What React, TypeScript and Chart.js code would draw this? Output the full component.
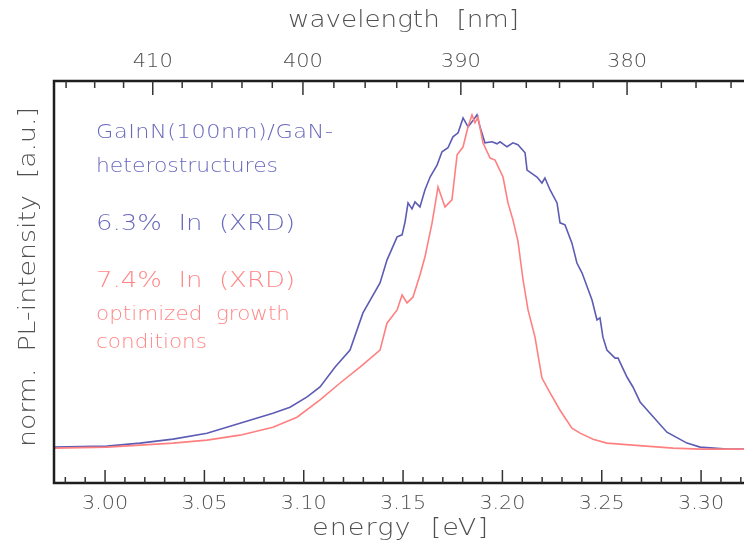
import React, { useEffect, useRef } from "react";
import { Chart, registerables } from "chart.js";

Chart.register(...registerables);

// ---- data ----
const blueEnergy = [
  2.9743, 3.001, 3.0176, 3.0342, 3.0513, 3.0679, 3.0845, 3.0931, 3.1017, 3.1082,
  3.1158, 3.1233, 3.1298, 3.1384, 3.1419, 3.147, 3.1495, 3.151, 3.1525, 3.1545,
  3.156, 3.1585, 3.161, 3.1636, 3.1671, 3.1696, 3.1726, 3.1751, 3.1777, 3.1802,
  3.1827, 3.1847, 3.1872, 3.1887, 3.1912, 3.1948, 3.1973, 3.1988, 3.2023, 3.2053,
  3.2078, 3.2114, 3.2124, 3.2174, 3.2199, 3.2214, 3.224, 3.2275, 3.229, 3.2315,
  3.235, 3.2375, 3.2401, 3.2451, 3.2476, 3.2491, 3.2506, 3.2526, 3.2567, 3.2582,
  3.2627, 3.2657, 3.2693, 3.2743, 3.2828, 3.2929, 3.2995, 3.313, 3.3216,
];
const blueIntensity = [
  0.0, 0.003, 0.012, 0.024, 0.042, 0.072, 0.102, 0.12, 0.151, 0.181,
  0.241, 0.292, 0.404, 0.494, 0.563, 0.633, 0.639, 0.678, 0.735, 0.717,
  0.738, 0.723, 0.774, 0.813, 0.849, 0.889, 0.901, 0.934, 0.946, 0.991,
  0.964, 0.979, 1.0, 0.964, 0.916, 0.919, 0.913, 0.919, 0.904, 0.916,
  0.91, 0.886, 0.834, 0.813, 0.795, 0.81, 0.774, 0.735, 0.675, 0.669,
  0.614, 0.554, 0.524, 0.443, 0.383, 0.389, 0.331, 0.292, 0.268, 0.268,
  0.211, 0.181, 0.136, 0.102, 0.045, 0.012, 0.0, -0.006, -0.006,
];

const redEnergy = [
  2.9743, 3.001, 3.0176, 3.0342, 3.0513, 3.0679, 3.0845, 3.0966, 3.1082, 3.1183,
  3.1283, 3.1384, 3.1419, 3.147, 3.1495, 3.152, 3.155, 3.1585, 3.161, 3.1646,
  3.1676, 3.1711, 3.1746, 3.1772, 3.1802, 3.1827, 3.1847, 3.1862, 3.1877, 3.1902,
  3.1938, 3.1963, 3.2003, 3.2028, 3.2053, 3.2078, 3.2104, 3.2129, 3.2164, 3.2199,
  3.224, 3.229, 3.235, 3.2391, 3.2456, 3.2526, 3.2657, 3.2859, 3.2995, 3.3216,
];
const redIntensity = [
  -0.003, 0.0, 0.006, 0.012, 0.021, 0.036, 0.06, 0.09, 0.142, 0.193,
  0.241, 0.292, 0.373, 0.413, 0.458, 0.434, 0.452, 0.518, 0.572, 0.675,
  0.783, 0.723, 0.744, 0.88, 0.904, 0.964, 1.0, 0.976, 0.994, 0.916,
  0.87, 0.864, 0.813, 0.735, 0.684, 0.621, 0.503, 0.413, 0.331, 0.208,
  0.163, 0.111, 0.057, 0.042, 0.024, 0.012, 0.006, -0.003, -0.006, -0.006,
];

const energyTicks = [3.0, 3.05, 3.1, 3.15, 3.2, 3.25, 3.3];
const energyTickLabels = ["3.00", "3.05", "3.10", "3.15", "3.20", "3.25", "3.30"];
const wavelengthTicks = [410, 400, 390, 380];
const wavelengthTickLabels = ["410", "400", "390", "380"];

const X_MIN = 2.9743;
const X_MAX = 3.3216;
const Y_MIN = -0.108;
const Y_MAX = 1.102;
const HC = 1239.84; // eV*nm

const BLUE_LINE = "rgb(92,92,180)";
const RED_LINE = "rgb(255,128,128)";
const BLUE_TEXT = "rgb(104,104,190)";
const RED_TEXT = "rgb(255,135,135)";
const AXIS_TEXT = "#505050";
const FONT = "'DejaVu Sans'";

function fitText(
  ctx: CanvasRenderingContext2D,
  text: string,
  left: number,
  y: number,
  width: number
) {
  (ctx as any).letterSpacing = "0px";
  const w = ctx.measureText(text).width;
  const sx = Math.max(1, Math.min(1.18, width / w));
  const n = Math.max(1, text.length - 1);
  const ls = (width / sx - w) / n;
  ctx.save();
  ctx.translate(left, y);
  ctx.scale(sx, 1);
  (ctx as any).letterSpacing = ls + "px";
  ctx.textAlign = "left";
  ctx.fillText(text, 0, 0);
  (ctx as any).letterSpacing = "0px";
  ctx.restore();
}

const axesPlugin = {
  id: "customAxes",
  afterDraw(chart: any) {
    const ctx: CanvasRenderingContext2D = chart.ctx;
    const { left, right, top, bottom } = chart.chartArea;
    const xs = chart.scales.x;
    ctx.save();

    // frame
    ctx.strokeStyle = "#1e1e1e";
    ctx.lineWidth = 2.5;
    ctx.beginPath();
    ctx.moveTo(right + 2, top);
    ctx.lineTo(left, top);
    ctx.lineTo(left, bottom);
    ctx.lineTo(right + 2, bottom);
    ctx.stroke();

    // bottom ticks (energy)
    ctx.lineWidth = 1.5;
    ctx.strokeStyle = "#333";
    for (let i = 298; i <= 332; i++) {
      const e = i / 100;
      const px = xs.getPixelForValue(e);
      if (px < left + 2 || px > right) continue;
      const major = i % 5 === 0;
      const len = major ? 13 : 6;
      ctx.beginPath();
      ctx.moveTo(px, bottom);
      ctx.lineTo(px, bottom - len);
      ctx.stroke();
    }
    // top ticks (wavelength)
    for (let l = 372; l <= 418; l += 2) {
      const px = xs.getPixelForValue(HC / l);
      if (px < left + 2 || px > right) continue;
      const major = l % 10 === 0;
      const len = major ? 14 : 7;
      ctx.beginPath();
      ctx.moveTo(px, top);
      ctx.lineTo(px, top + len);
      ctx.stroke();
    }

    // tick labels
    ctx.fillStyle = AXIS_TEXT;
    ctx.textBaseline = "middle";
    ctx.font = `200 20px ${FONT}`;
    energyTicks.forEach((e, i) => {
      const px = xs.getPixelForValue(e);
      fitText(ctx, energyTickLabels[i], px - 23, bottom + 21, 46);
    });
    wavelengthTicks.forEach((l, i) => {
      const px = xs.getPixelForValue(HC / l);
      fitText(ctx, wavelengthTickLabels[i], px - 20, top - 19, 40);
    });

    // axis titles
    ctx.font = `200 23px ${FONT}`;
    fitText(ctx, "energy  [eV]", 312, bottom + 46, 176);
    fitText(ctx, "wavelength  [nm]", 288, 21, 231);
    ctx.save();
    ctx.translate(29, 277);
    ctx.rotate(-Math.PI / 2);
    fitText(ctx, "norm.  PL-intensity  [a.u.]", -170, 0, 340);
    ctx.restore();

    // annotations
    ctx.textBaseline = "alphabetic";
    ctx.fillStyle = BLUE_TEXT;
    ctx.font = `200 19px ${FONT}`;
    fitText(ctx, "GaInN(100nm)/GaN-", 96, 138, 237);
    fitText(ctx, "heterostructures", 96, 172, 182);
    ctx.font = `200 22px ${FONT}`;
    fitText(ctx, "6.3%  In  (XRD)", 96, 230, 199);
    ctx.fillStyle = RED_TEXT;
    fitText(ctx, "7.4%  In  (XRD)", 96, 287, 199);
    ctx.font = `200 19px ${FONT}`;
    fitText(ctx, "optimized  growth", 96, 320, 194);
    fitText(ctx, "conditions", 96, 348, 111);

    ctx.restore();
  },
};

export default function App() {
  const ref = useRef<HTMLCanvasElement | null>(null);
  useEffect(() => {
    if (!ref.current) return;
    const chart = new Chart(ref.current, {
      type: "line",
      data: {
        datasets: [
          {
            label: "7.4% In",
            data: redEnergy.map((x, i) => ({ x, y: redIntensity[i] })),
            borderColor: RED_LINE,
            borderWidth: 1.6,
            pointRadius: 0,
            tension: 0,
            fill: false,
          },
          {
            label: "6.3% In",
            data: blueEnergy.map((x, i) => ({ x, y: blueIntensity[i] })),
            borderColor: BLUE_LINE,
            borderWidth: 1.6,
            pointRadius: 0,
            tension: 0,
            fill: false,
          },
        ],
      },
      options: {
        animation: false,
        responsive: false,
        maintainAspectRatio: false,
        devicePixelRatio: 1,
        layout: { padding: { left: 54, top: 81, right: 0, bottom: 70 } },
        plugins: { legend: { display: false }, tooltip: { enabled: false } },
        scales: {
          x: { type: "linear", min: X_MIN, max: X_MAX, display: false },
          y: { type: "linear", min: Y_MIN, max: Y_MAX, display: false },
        },
      },
      plugins: [axesPlugin],
    });
    return () => chart.destroy();
  }, []);
  return (
    <div style={{ position: "fixed", left: 0, top: 0, width: 744, height: 553, background: "#fff" }}>
      <canvas ref={ref} width={744} height={553} style={{ width: 744, height: 553 }} />
    </div>
  );
}
